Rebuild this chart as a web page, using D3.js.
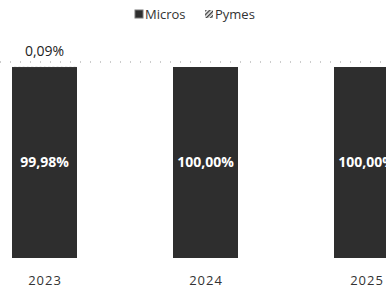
<!DOCTYPE html>
<html>
<head>
<meta charset="utf-8">
<script src="https://cdn.jsdelivr.net/npm/d3@7"></script>
<style>
  body { margin: 0; background: #fff; }
  svg { display: block; font-family: "Open Sans", "Liberation Sans", sans-serif; }
</style>
</head>
<body>
<svg id="chart"></svg>
<script>
// Data
const years = ["2023", "2024", "2025"];
const micros = [99.98, 100.00, 100.00];
const pymes = [0.09, 0, 0];
const seriesNames = ["Micros", "Pymes"];

const width = 386, height = 290;

const svg = d3.select("#chart")
    .attr("width", width)
    .attr("height", height);

// hatch pattern for Pymes
const defs = svg.append("defs");
defs.append("pattern")
    .attr("id", "hatch")
    .attr("patternUnits", "userSpaceOnUse")
    .attr("width", 3)
    .attr("height", 3)
    .attr("patternTransform", "rotate(45)")
    .append("rect")
    .attr("width", 1.5)
    .attr("height", 3)
    .attr("fill", "#444");

// scales
const x = d3.scalePoint()
    .domain(years)
    .range([44.5, 366.5]);
const barWidth = 65;

const y = d3.scaleLinear()
    .domain([0, 100])
    .range([258, 67]);

// dotted gridline at top
svg.append("g")
    .selectAll("line")
    .data([100])
    .enter().append("line")
    .attr("x1", 0)
    .attr("x2", width)
    .attr("y1", d => y(d) - 5)
    .attr("y2", d => y(d) - 5)
    .attr("stroke", "#999")
    .attr("stroke-width", 1)
    .attr("stroke-dasharray", "1,9");

const rows = years.map((yr, i) => ({ year: yr, micros: micros[i], pymes: pymes[i] }));

// Micros bars
svg.selectAll(".micros")
    .data(rows)
    .enter().append("rect")
    .attr("class", "micros")
    .attr("x", d => x(d.year) - barWidth / 2)
    .attr("y", d => y(d.micros))
    .attr("width", barWidth)
    .attr("height", d => y(0) - y(d.micros))
    .attr("fill", "#2e2e2e");

// Pymes bars (stacked on top)
svg.selectAll(".pymes")
    .data(rows)
    .enter().append("rect")
    .attr("class", "pymes")
    .attr("x", d => x(d.year) - barWidth / 2)
    .attr("y", d => y(d.micros + d.pymes))
    .attr("width", barWidth)
    .attr("height", d => y(d.micros) - y(d.micros + d.pymes))
    .attr("fill", "url(#hatch)");

// value labels inside bars
svg.selectAll(".micros-label")
    .data(rows)
    .enter().append("text")
    .attr("class", "micros-label")
    .attr("x", d => x(d.year))
    .attr("y", d => y(d.micros / 2))
    .attr("dy", "0.35em")
    .attr("text-anchor", "middle")
    .attr("fill", "#fff")
    .attr("font-size", 14)
    .attr("font-weight", "bold")
    .text(d => d3.format(".2f")(d.micros).replace(".", ",") + "%");

// pymes labels above bars
svg.selectAll(".pymes-label")
    .data(rows.filter(d => d.pymes > 0))
    .enter().append("text")
    .attr("class", "pymes-label")
    .attr("x", d => x(d.year))
    .attr("y", d => y(d.micros + d.pymes) - 16)
    .attr("dy", "0.35em")
    .attr("text-anchor", "middle")
    .attr("fill", "#222")
    .attr("font-size", 14)
    .text(d => d3.format(".2f")(d.pymes).replace(".", ",") + "%");

// x axis labels
svg.append("g")
    .attr("transform", "translate(0,280)")
    .call(d3.axisBottom(x).tickSize(0).tickPadding(0))
    .call(g => g.select(".domain").remove())
    .call(g => g.selectAll("text")
        .attr("dy", "0.35em")
        .attr("font-size", 13)
        .attr("letter-spacing", "1px")
        .attr("fill", "#333")
        .attr("font-family", "'Open Sans', sans-serif"));

// legend
const legend = svg.append("g").attr("transform", "translate(135,14)");
const legendX = [0, 70];
seriesNames.forEach((name, i) => {
    const g = legend.append("g").attr("transform", `translate(${legendX[i]},0)`);
    g.append("rect")
        .attr("x", 0)
        .attr("y", -4)
        .attr("width", 8)
        .attr("height", 8)
        .attr("fill", i === 0 ? "#2e2e2e" : "url(#hatch)")
        .attr("stroke", i === 0 ? "#777" : "none");
    g.append("text")
        .attr("x", 10)
        .attr("y", 0)
        .attr("dy", "0.35em")
        .attr("font-size", 13)
        .attr("fill", "#333")
        .text(name);
});
</script>
</body>
</html>
